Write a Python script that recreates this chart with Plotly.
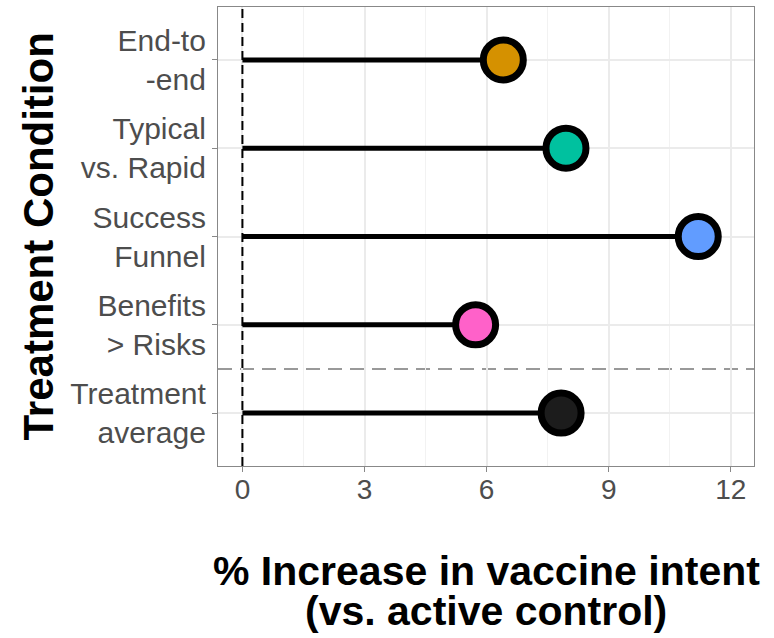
import plotly.graph_objects as go

categories = ["End-to<br>-end", "Typical<br>vs. Rapid", "Success<br>Funnel",
              "Benefits<br>> Risks", "Treatment<br>average"]
values = [6.41, 7.95, 11.20, 5.73, 7.83]
colors = ["#D59100", "#00C19F", "#619CFF", "#FF61C9", "#1C1C1C"]
x_ticks = [0, 3, 6, 9, 12]
x_title_lines = ["% Increase in vaccine intent", "(vs. active control)"]
y_title = "Treatment Condition"

# y positions: top category highest
ypos = [len(categories) - i for i in range(len(categories))]

FONT = "Liberation Sans, Arial, sans-serif"

fig = go.Figure()

# lollipop stems
for v, y in zip(values, ypos):
    fig.add_trace(go.Scatter(x=[0, v], y=[y, y], mode="lines",
                             line=dict(color="black", width=5),
                             showlegend=False, hoverinfo="skip"))

# dots
fig.add_trace(go.Scatter(x=values, y=ypos, mode="markers",
                         marker=dict(size=40, color=colors,
                                     line=dict(color="black", width=7)),
                         showlegend=False))

# vertical dashed line at zero
fig.add_shape(type="line", xref="x", yref="paper", x0=0, x1=0, y0=0, y1=1,
              line=dict(color="black", width=2, dash="9px,5px"), layer="above")
# horizontal separator between average and treatments
fig.add_shape(type="line", xref="paper", yref="y", x0=0, x1=1, y0=1.5, y1=1.5,
              line=dict(color="#999999", width=2, dash="14px,8px"), layer="below")

fig.update_layout(
    width=774, height=638,
    margin=dict(l=218, r=20, t=7, b=172, autoexpand=False),
    plot_bgcolor="white", paper_bgcolor="white",
    font=dict(family=FONT, color="#4D4D4D"),
)

fig.update_xaxes(
    range=[-0.6, 12.57], tickvals=x_ticks, ticktext=[str(t) for t in x_ticks],
    showgrid=True, gridcolor="#EBEBEB", gridwidth=1.5,
    minor=dict(tickvals=[1.5, 4.5, 7.5, 10.5], showgrid=True,
               gridcolor="#F2F2F2", gridwidth=1, ticks=""),
    zeroline=False, showline=True, linecolor="#888888", linewidth=1.2, mirror=True,
    ticks="outside", ticklen=5, tickcolor="#888888", automargin=False,
    ticklabelstandoff=-7,
    tickfont=dict(size=28, color="#4D4D4D", family=FONT),
)
fig.update_yaxes(
    range=[0.4, 5.6], tickvals=ypos, ticktext=categories,
    showgrid=True, gridcolor="#EBEBEB", gridwidth=1.5,
    zeroline=False, showline=True, linecolor="#888888", linewidth=1.2, mirror=True,
    ticks="outside", ticklen=5, tickcolor="#888888", automargin=False,
    tickfont=dict(size=30, color="#4D4D4D", family=FONT),
)

# axis titles as annotations
fig.add_annotation(text="<b>%s</b>" % y_title, xref="paper", yref="paper",
                   x=0, y=0.5, xanchor="center", yanchor="middle", xshift=-180,
                   textangle=-90, showarrow=False,
                   font=dict(size=42, color="black", family=FONT))
fig.add_annotation(text="<b>%s</b>" % x_title_lines[0], xref="paper", yref="paper",
                   x=0.5, y=0, xanchor="center", yanchor="middle", yshift=-105,
                   showarrow=False, font=dict(size=41, color="black", family=FONT))
fig.add_annotation(text="<b>%s</b>" % x_title_lines[1], xref="paper", yref="paper",
                   x=0.5, y=0, xanchor="center", yanchor="middle", yshift=-145,
                   showarrow=False, font=dict(size=41, color="black", family=FONT))

fig.write_html("out.html", config={"displayModeBar": False},
               post_script="document.body.style.margin='0';")
